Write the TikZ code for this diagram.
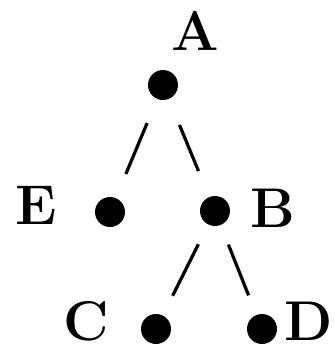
\documentclass[tikz,border=0pt]{standalone}
\usepackage{amsmath}
\usepackage{amssymb}

\begin{document}
\begin{tikzpicture}[x=1pt,y=-1pt,
    vertex/.style={circle,fill,inner sep=0pt,minimum size=30pt},
    letter/.style={font=\fontsize{56}{64}\selectfont\bfseries,inner sep=0pt},
    edge/.style={line width=3.2pt,shorten <=#1,shorten >=#1},
    edge/.default=25pt]
            \useasboundingbox (0,0) rectangle (335,354);
            \node[vertex] (A) at (163,85) {};
            \node[vertex] (E) at (110,212) {};
            \node[vertex] (B) at (215,211) {};
            \node[vertex] (C) at (156,329) {};
            \node[vertex] (D) at (262,329) {};
            \node[letter] (labA) at (195,31) {A};
            \node[letter] (labE) at (36,205) {E};
            \node[letter] (labB) at (273,208) {B};
            \node[letter] (labC) at (86,321) {C};
            \node[letter] (labD) at (309,321) {D};
            \draw[edge=26pt] (A)--(E);
            \draw[edge=28pt] (A)--(B);
            \draw[edge=22pt] (B)--(C);
            \draw[edge=21pt] (B)--(D);
        \end{tikzpicture}
\end{document}
